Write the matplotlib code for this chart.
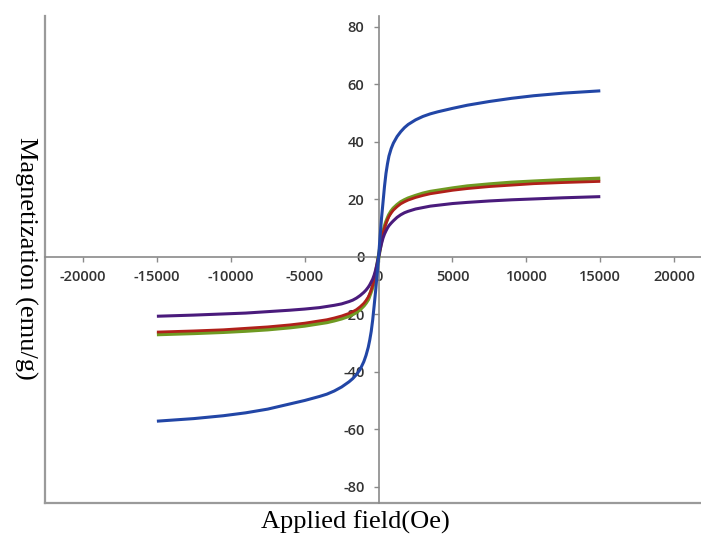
import numpy as np
import matplotlib
matplotlib.use("Agg")
import matplotlib.pyplot as plt

plt.rcParams['axes.unicode_minus'] = False

# applied field (Oe)
field = [-15000, -12500, -10500, -9000, -7500, -6000, -5000, -4000, -3500, -3000,
         -2500, -2000, -1750, -1500, -1250, -1000, -850, -700, -600, -500,
         -400, -300, -200, -100, 0,
         100, 200, 300, 400, 500, 600, 700, 850, 1000, 1250,
         1500, 1750, 2000, 2500, 3000, 3500, 4000, 5000, 6000, 7500,
         9000, 10500, 12500, 15000]

# magnetization (emu/g), one list per sample
m_blue = [-57.2, -56.3, -55.3, -54.3, -53.0, -51.2, -50.0, -48.6, -47.8, -46.7,
          -45.3, -43.5, -42.4, -41.0, -39.2, -36.5, -34.3, -31.5, -29.0, -26.0,
          -22.0, -17.0, -11.8, -6.0, 0.0,
          7.0, 13.5, 19.0, 24.5, 29.0, 32.3, 35.0, 37.6, 39.5, 41.8,
          43.5, 44.9, 46.0, 47.6, 48.8, 49.7, 50.4, 51.6, 52.7, 54.0,
          55.1, 56.0, 56.9, 57.7]
m_green = [-27.0, -26.6, -26.2, -25.8, -25.3, -24.6, -24.0, -23.2, -22.8, -22.2,
           -21.5, -20.6, -20.0, -19.3, -18.3, -17.0, -16.0, -14.8, -13.4, -12.0,
           -10.4, -8.5, -6.0, -3.0, 0.0,
           3.0, 6.0, 8.5, 10.4, 12.0, 13.3, 14.5, 15.8, 16.8, 18.0,
           19.0, 19.7, 20.3, 21.2, 22.0, 22.6, 23.0, 23.8, 24.5, 25.2,
           25.8, 26.2, 26.7, 27.2]
m_red = [-26.2, -25.8, -25.4, -24.9, -24.4, -23.7, -23.1, -22.3, -21.9, -21.3,
         -20.6, -19.7, -19.1, -18.4, -17.4, -16.2, -15.2, -14.0, -12.9, -11.6,
         -10.0, -8.2, -5.8, -2.9, 0.0,
         2.9, 5.8, 8.2, 10.0, 11.6, 12.9, 14.0, 15.2, 16.2, 17.4,
         18.4, 19.1, 19.7, 20.6, 21.3, 21.9, 22.3, 23.1, 23.7, 24.4,
         24.9, 25.4, 25.8, 26.2]
m_purple = [-20.7, -20.3, -19.9, -19.6, -19.1, -18.6, -18.2, -17.7, -17.3, -16.9,
            -16.4, -15.6, -15.1, -14.4, -13.5, -12.4, -11.6, -10.6, -9.8, -8.8,
            -7.8, -6.4, -4.6, -2.4, 0.0,
            2.4, 4.6, 6.5, 7.9, 9.0, 10.0, 10.8, 11.7, 12.5, 13.7,
            14.6, 15.3, 15.8, 16.6, 17.1, 17.6, 17.9, 18.5, 18.9, 19.4,
            19.8, 20.1, 20.5, 20.9]

x_ticks = [-20000, -15000, -10000, -5000, 0, 5000, 10000, 15000, 20000]
y_ticks = [-80, -60, -40, -20, 0, 20, 40, 60, 80]

fig = plt.figure(figsize=(7.01, 5.38), dpi=100)
rect = [0.0642, 0.0643, 0.9358, 0.9058]

# outer frame (left + bottom lines only)
frame = fig.add_axes(rect)
frame.set_xticks([])
frame.set_yticks([])
for s in ['top', 'right']:
    frame.spines[s].set_visible(False)
for s in ['left', 'bottom']:
    frame.spines[s].set_color('#9a9a9a')
    frame.spines[s].set_linewidth(1.6)

# centred axes
ax = fig.add_axes(rect)
ax.patch.set_alpha(0)
ax.set_xlim(-22570, 21813)
ax.set_ylim(-85.8, 83.7)
ax.spines['left'].set_position(('data', 0))
ax.spines['bottom'].set_position(('data', 0))
ax.spines['top'].set_visible(False)
ax.spines['right'].set_visible(False)
for s in ['left', 'bottom']:
    ax.spines[s].set_color('#8a8a8a')
    ax.spines[s].set_linewidth(1.2)

style = dict(zorder=3, solid_joinstyle='round', solid_capstyle='butt')
ax.plot(field, m_green, color='#6f9a22', lw=2.8, **style)
ax.plot(field, m_red, color='#b0201a', lw=2.0, **style)
ax.plot(field, m_purple, color='#4a1b7c', lw=2.2, **style)
ax.plot(field, m_blue, color='#2246a6', lw=2.2, **style)

ax.set_xticks(x_ticks)
ax.set_xticklabels([str(v) for v in x_ticks])
ax.set_yticks(y_ticks)
ax.set_yticklabels([str(v) for v in y_ticks])
ax.tick_params(axis='x', direction='out', length=3.6, width=1, color='#8a8a8a',
               pad=6, labelsize=10.5, labelcolor='#333333')
ax.tick_params(axis='y', direction='out', length=3.6, width=1, color='#8a8a8a',
               pad=6.5, labelsize=10.5, labelcolor='#333333')
for lab in ax.get_xticklabels() + ax.get_yticklabels():
    lab.set_family('Open Sans')
    lab.set_weight('semibold')

fig.text(0.507, 0.03, 'Applied field(Oe)', family='Liberation Serif', fontsize=19,
         ha='center', va='center')
fig.text(0.036, 0.519, 'Magnetization (emu/g)', family='Liberation Serif', fontsize=19,
         rotation=270, ha='center', va='center')

fig.savefig('out.png', dpi=100)
